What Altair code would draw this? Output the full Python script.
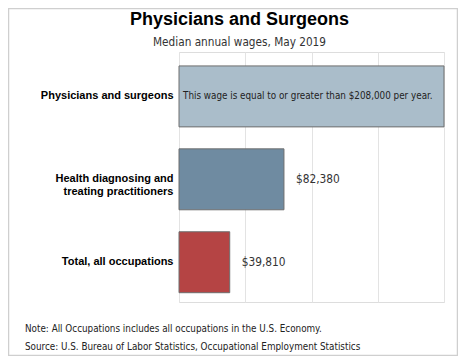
import altair as alt
import pandas as pd

# ---- data ----
occupations = [
    "Physicians and surgeons",
    "Health diagnosing and|treating practitioners",
    "Total, all occupations",
]
wages = [208000, 82380, 39810]
value_labels = [
    "This wage is equal to or greater than $208,000 per year.",
    "$82,380",
    "$39,810",
]
bar_colors = ["#aabdca", "#6f8ba1", "#b54444"]
x_ticks = [0, 52000, 104000, 156000, 208000]
title_text = "Physicians and Surgeons"
subtitle_text = "Median annual wages, May 2019"
notes = [
    "Note: All Occupations includes all occupations in the U.S. Economy.",
    "Source: U.S. Bureau of Labor Statistics, Occupational Employment Statistics",
]

df = pd.DataFrame({
    "occupation": occupations,
    "wage": wages,
    "label": value_labels,
    "inside": [True, False, False],
})

SMALL_FONT = "DejaVu Sans Condensed, Tahoma, DejaVu Sans"

y_enc = alt.Y(
    "occupation:N",
    sort=occupations,
    scale=alt.Scale(domain=occupations, paddingInner=0.265, paddingOuter=0.14, align=0.6),
    axis=alt.Axis(
        title=None, ticks=False, domain=False, labelPadding=6,
        labelFont="Liberation Sans", labelFontWeight="bold", labelFontSize=11,
        labelColor="#000", labelLimit=200,
        labelExpr="split(datum.label, '|')", labelLineHeight=13,
    ),
)
x_enc = alt.X(
    "wage:Q",
    scale=alt.Scale(domain=[0, 208000], nice=False),
    axis=alt.Axis(
        title=None, labels=False, ticks=False, domain=False,
        values=x_ticks, grid=True, gridColor="#e3e3e3",
    ),
)

base = alt.Chart(df)

bars = base.mark_bar(stroke="#6e6e6e", strokeWidth=1).encode(
    x=x_enc,
    y=y_enc,
    color=alt.Color("occupation:N", sort=occupations,
                    scale=alt.Scale(domain=occupations, range=bar_colors),
                    legend=None),
)

outside_text = base.transform_filter("!datum.inside").mark_text(
    align="left", baseline="middle", dx=12, font=SMALL_FONT, fontSize=11.8,
    color="#333",
).encode(x="wage:Q", y=y_enc, text="label:N")

inside_text = base.transform_filter("datum.inside").mark_text(
    align="left", baseline="middle", dx=4, font=SMALL_FONT, fontSize=9.8,
    color="#222",
).encode(x=alt.value(0), y=y_enc, text="label:N")


def fixed_text(txt, x, y, **kw):
    return alt.Chart(pd.DataFrame({"t": [txt]})).mark_text(**kw).encode(
        x=alt.value(x), y=alt.value(y), text="t:N"
    )


title_mark = fixed_text(title_text, 60.5, -32, align="center", baseline="middle",
                        font="Liberation Sans", fontWeight="bold", fontSize=18, color="#000")
subtitle_mark = fixed_text(subtitle_text, 60.5, -10, align="center", baseline="middle",
                           font=SMALL_FONT, fontSize=11.7, color="#333")
note1 = fixed_text(notes[0], -154, 277, align="left", baseline="middle",
                   font=SMALL_FONT, fontSize=9.8, color="#222")
note2 = fixed_text(notes[1], -154, 295, align="left", baseline="middle",
                   font=SMALL_FONT, fontSize=9.8, color="#222")

border = alt.Chart(pd.DataFrame({"a": [0]})).mark_rect(
    fill=None, stroke="#cfcfcf", strokeWidth=1.5,
).encode(x=alt.value(-170.5), x2=alt.value(278.5), y=alt.value(-43.5), y2=alt.value(303.5))

chart = alt.layer(
    border, bars, outside_text, inside_text, title_mark, subtitle_mark, note1, note2
).properties(
    width=265, height=250,
    autosize=alt.AutoSizeParams(type="none"),
    padding={"left": 171, "top": 44, "right": 14, "bottom": 54},
).configure_view(stroke="#dcdcdc", strokeWidth=1).configure(background="white")

chart.save("out.html", embed_options={"renderer": "svg", "actions": False})
